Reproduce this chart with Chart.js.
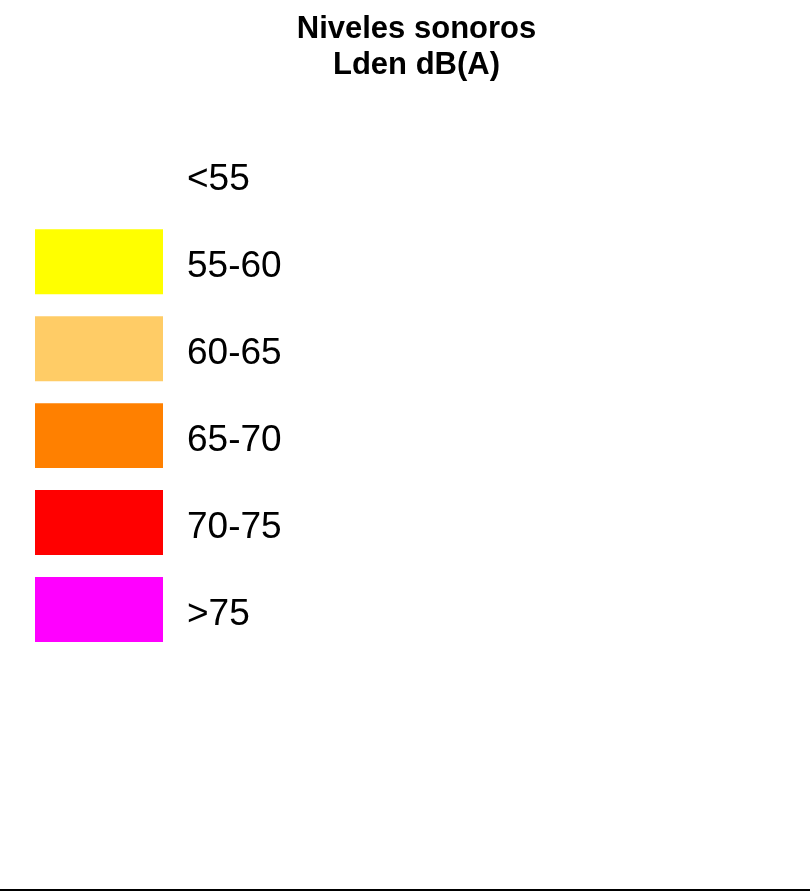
<!DOCTYPE html>
<html>
<head>
<meta charset="utf-8">
<script src="https://cdn.jsdelivr.net/npm/chart.js@4/dist/chart.umd.min.js"></script>
<style>
  html, body { margin: 0; padding: 0; background: #fff; }
  #wrap { width: 810px; height: 889px; position: relative; }
  #bottomLine { width: 810px; height: 2px; background: #000; }
</style>
</head>
<body>
<div id="wrap"><canvas id="legendChart"></canvas></div>
<div id="bottomLine"></div>
<script>
// noise level classes, Lden dB(A)
var levels = ["<55", "55-60", "60-65", "65-70", "70-75", ">75"];
var swatch = [1, 1, 1, 1, 1, 1];
var levelColors = ["#FFFFFF", "#FFFF00", "#FFCC66", "#FF8000", "#FF0000", "#FF00FF"];
var titleLines = ["Niveles sonoros", "Lden dB(A)"];

let ctx = document.getElementById("legendChart").getContext("2d");

let currentChart = new Chart(ctx, {
    type: "bar",
    data: {
        labels: levels,
        datasets: [{
            data: swatch,
            backgroundColor: levelColors,
            borderWidth: 0,
            barPercentage: 1,
            categoryPercentage: 0.747
        }]
    },
    options: {
        indexAxis: "y",
        responsive: true,
        maintainAspectRatio: false,
        animation: false,
        layout: {
            padding: { left: 35, right: 12, top: 0, bottom: 236 }
        },
        plugins: {
            legend: { display: false },
            tooltip: { enabled: false },
            title: {
                display: true,
                text: titleLines,
                color: "#000",
                font: { family: "Liberation Sans, Arial, sans-serif", size: 31, weight: "bold", lineHeight: 1.15 },
                padding: { top: 12, bottom: 48 }
            }
        },
        scales: {
            x: {
                display: false,
                min: 0,
                max: 1
            },
            y: {
                position: "right",
                grid: { display: false, drawTicks: false },
                border: { display: false },
                ticks: {
                    padding: 24,
                    labelOffset: 5,
                    color: "#000",
                    font: { family: "Liberation Sans, Arial, sans-serif", size: 37 }
                },
                afterFit: function(scale) {
                    // labels column fills the rest of the width
                    scale.width = 635;
                }
            }
        }
    }
});
</script>
</body>
</html>
